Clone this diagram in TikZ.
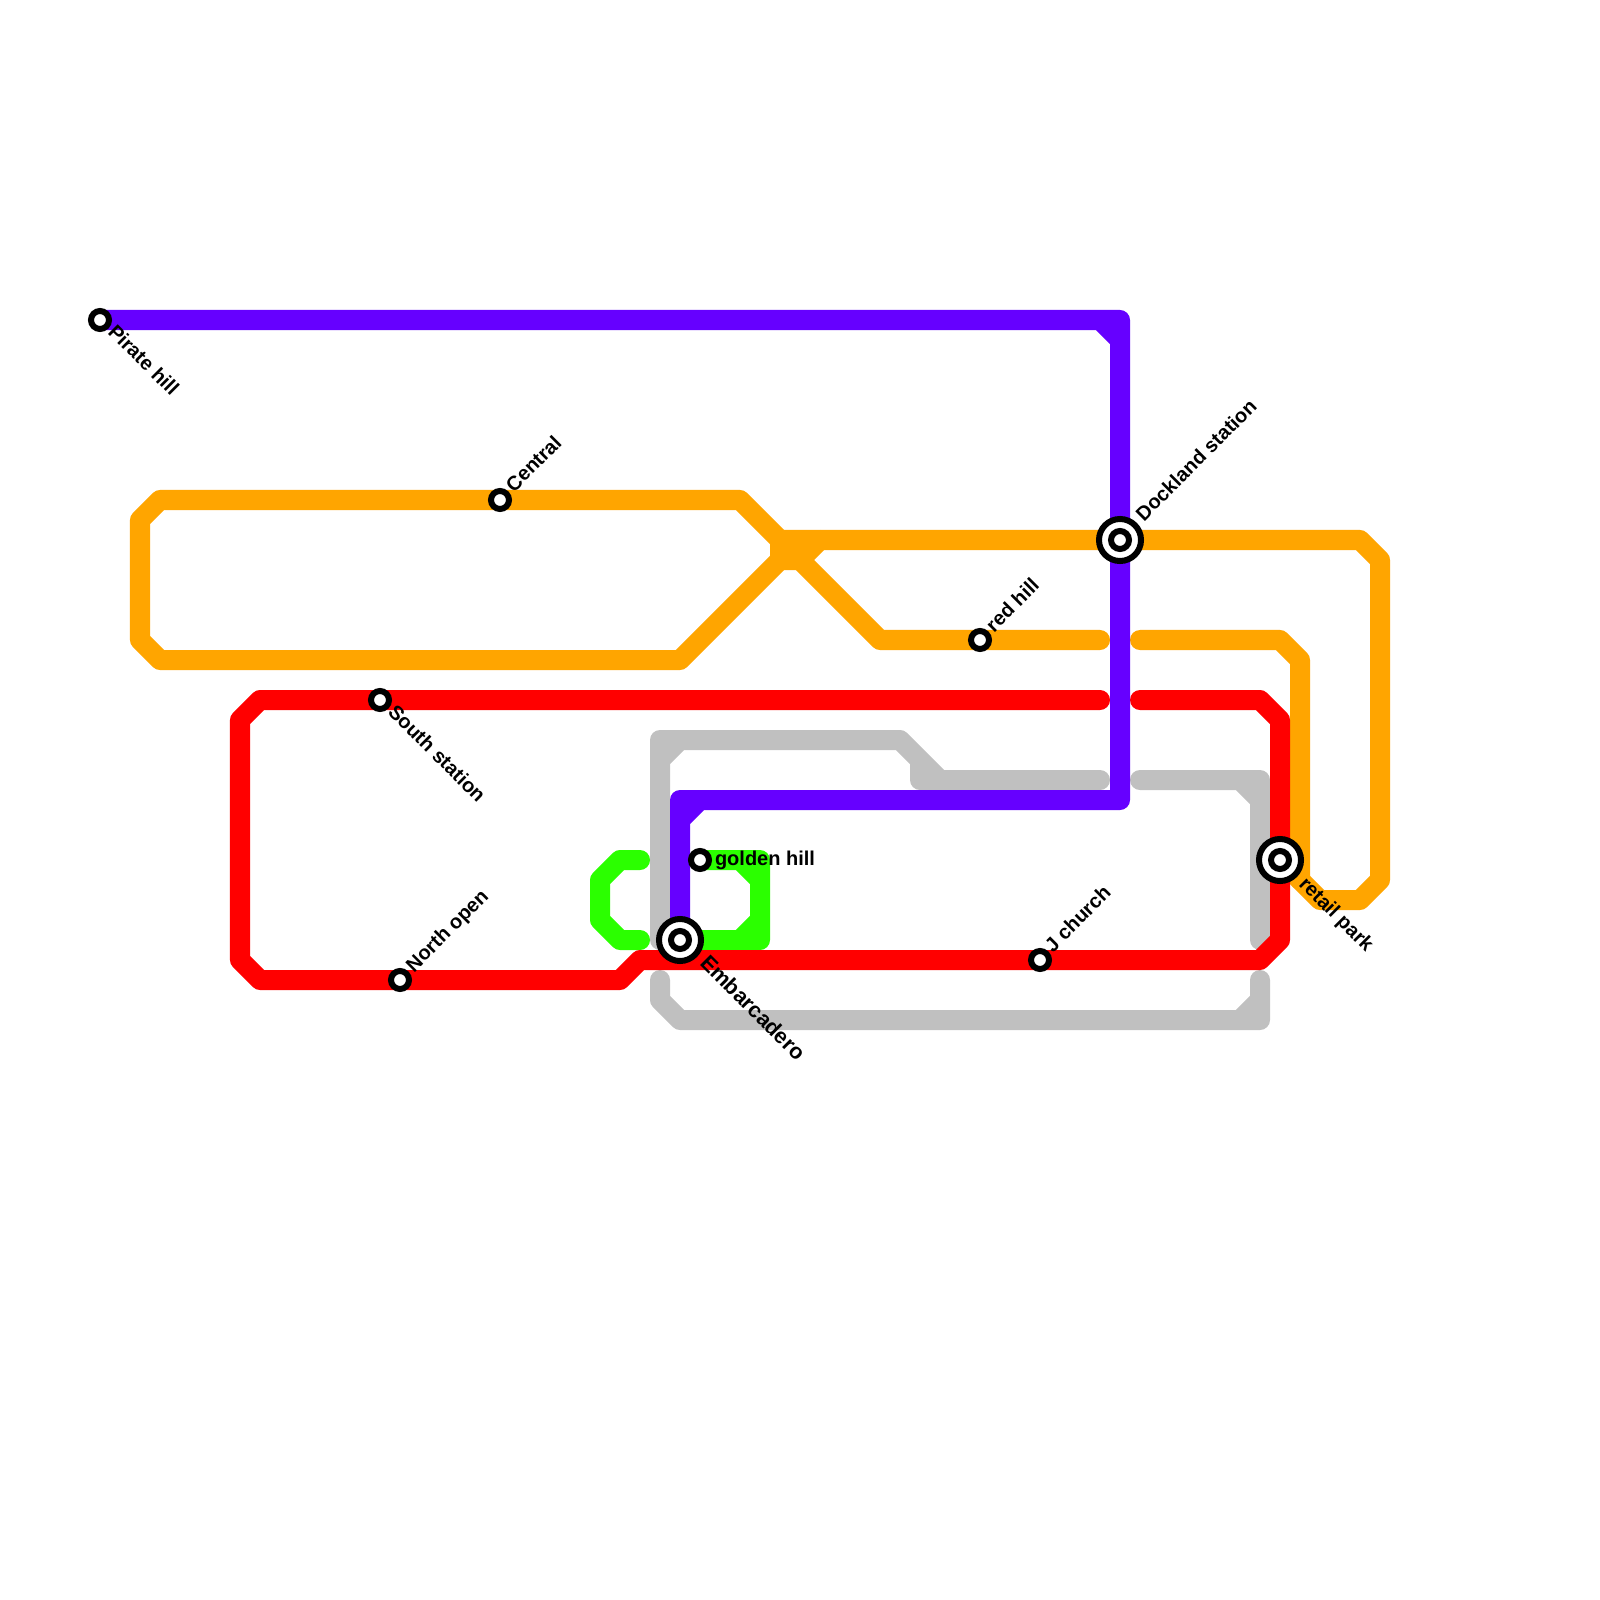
\documentclass[tikz,border=0pt]{standalone}
\usepackage{fontspec}
\setmainfont{Liberation Sans}
\definecolor{cpurple}{HTML}{6600FF}
\definecolor{corange}{HTML}{FFA500}
\definecolor{cred}{HTML}{FF0000}
\definecolor{cgray}{HTML}{C0C0C0}
\definecolor{cgreen}{HTML}{2BFF00}
\tikzset{
  route/.style={line width=0.2cm,line cap=round,line join=round},
  stn/.style={circle,draw=black,fill=white,line width=0.06cm,minimum size=0.18cm,inner sep=0pt,outer sep=0pt},
  hub/.style={circle,draw=black,fill=white,line width=0.06cm,minimum size=0.42cm,inner sep=0pt,outer sep=0pt},
  lbl/.style={inner sep=0pt,outer sep=0pt,font=\bfseries\fontsize{5.69pt}{7pt}\selectfont,anchor=base west},
  dn/.style={lbl,rotate=-45},
  up/.style={lbl,rotate=45}
}
\begin{document}
\begin{tikzpicture}[x=0.01cm,y=-0.01cm]
\path[use as bounding box,fill=white] (0,0) rectangle (1600,1600);
\coordinate (pirate) at (100,320);
\coordinate (central) at (500,500);
\coordinate (redhill) at (980,640);
\coordinate (south) at (380,700);
\coordinate (north) at (400,980);
\coordinate (jchurch) at (1040,960);
\coordinate (golden) at (700,860);
\coordinate (embarc) at (680,940);
\coordinate (dock) at (1120,540);
\coordinate (retail) at (1280,860);
% gray
\draw[route,cgray] (1100,780) -- (920,780) -- (920,760) (940,780) -- (900,740) -- (660,740) -- (660,940) (680,740) -- (660,760);
\draw[route,cgray] (1140,780) -- (1260,780) -- (1260,940) (1240,780) -- (1260,800);
\draw[route,cgray] (660,980) -- (660,1000) -- (680,1020) -- (1260,1020) -- (1260,980) (1240,1020) -- (1260,1000);
% green
\draw[route,cgreen] (640,860) -- (620,860) -- (600,880) -- (600,920) -- (620,940) -- (640,940);
\draw[route,cgreen] (golden) -- (760,860) -- (760,940) -- (embarc) (740,860) -- (760,880) (740,940) -- (760,920);
% orange
\draw[route,corange] (central) -- (740,500) -- (780,540) -- (780,560) -- (680,660) -- (160,660) -- (140,640) -- (140,520) -- (160,500) -- (central);
\draw[route,corange] (780,540) -- (dock) -- (1360,540) -- (1380,560) -- (1380,880) -- (1360,900) -- (1320,900) -- (retail);
\draw[route,corange] (780,560) -- (800,560) -- (820,540);
\draw[route,corange] (800,560) -- (880,640) -- (redhill) -- (1100,640);
\draw[route,corange] (1140,640) -- (1280,640) -- (1300,660) -- (1300,880);
% red
\draw[route,cred] (1100,700) -- (south) -- (260,700) -- (240,720) -- (240,960) -- (260,980) -- (north) -- (620,980) -- (640,960) -- (jchurch) -- (1260,960) -- (1280,940) -- (retail) -- (1280,720) -- (1260,700) -- (1140,700);
% purple
\draw[route,cpurple] (pirate) -- (1120,320) -- (dock) -- (1120,800) -- (680,800) -- (embarc) (1100,320) -- (1120,340) (700,800) -- (680,820);
% stations
\node[stn] (s1) at (pirate) {};
\node[stn] (s2) at (central) {};
\node[stn] (s3) at (redhill) {};
\node[stn] (s4) at (south) {};
\node[stn] (s5) at (north) {};
\node[stn] (s6) at (jchurch) {};
\node[stn] (s7) at (golden) {};
\foreach \c/\n in {embarc/h1,dock/h2,retail/h3}{
  \node[hub] (\n) at (\c) {};
  \node[stn] (\n i) at (\c) {};
}
% labels
\node[dn] (l1) at (107,333) {Pirate hill};
\node[up] (l2) at (514,493) {Central};
\node[up] (l3) at (994,633) {red hill};
\node[dn] (l4) at (387,713) {South station};
\node[up] (l5) at (414,973) {North open};
\node[up] (l6) at (1053,953) {J church};
\node[lbl] (l7) at (715,865) {golden hill};
\node[dn] (l8) at (699,964) {\fontsize{6.15pt}{7pt}\selectfont Embarcadero};
\node[up] (l9) at (1144,522) {Dockland station};
\node[dn] (l10) at (1298,885) {retail park};
\end{tikzpicture}
\end{document}
